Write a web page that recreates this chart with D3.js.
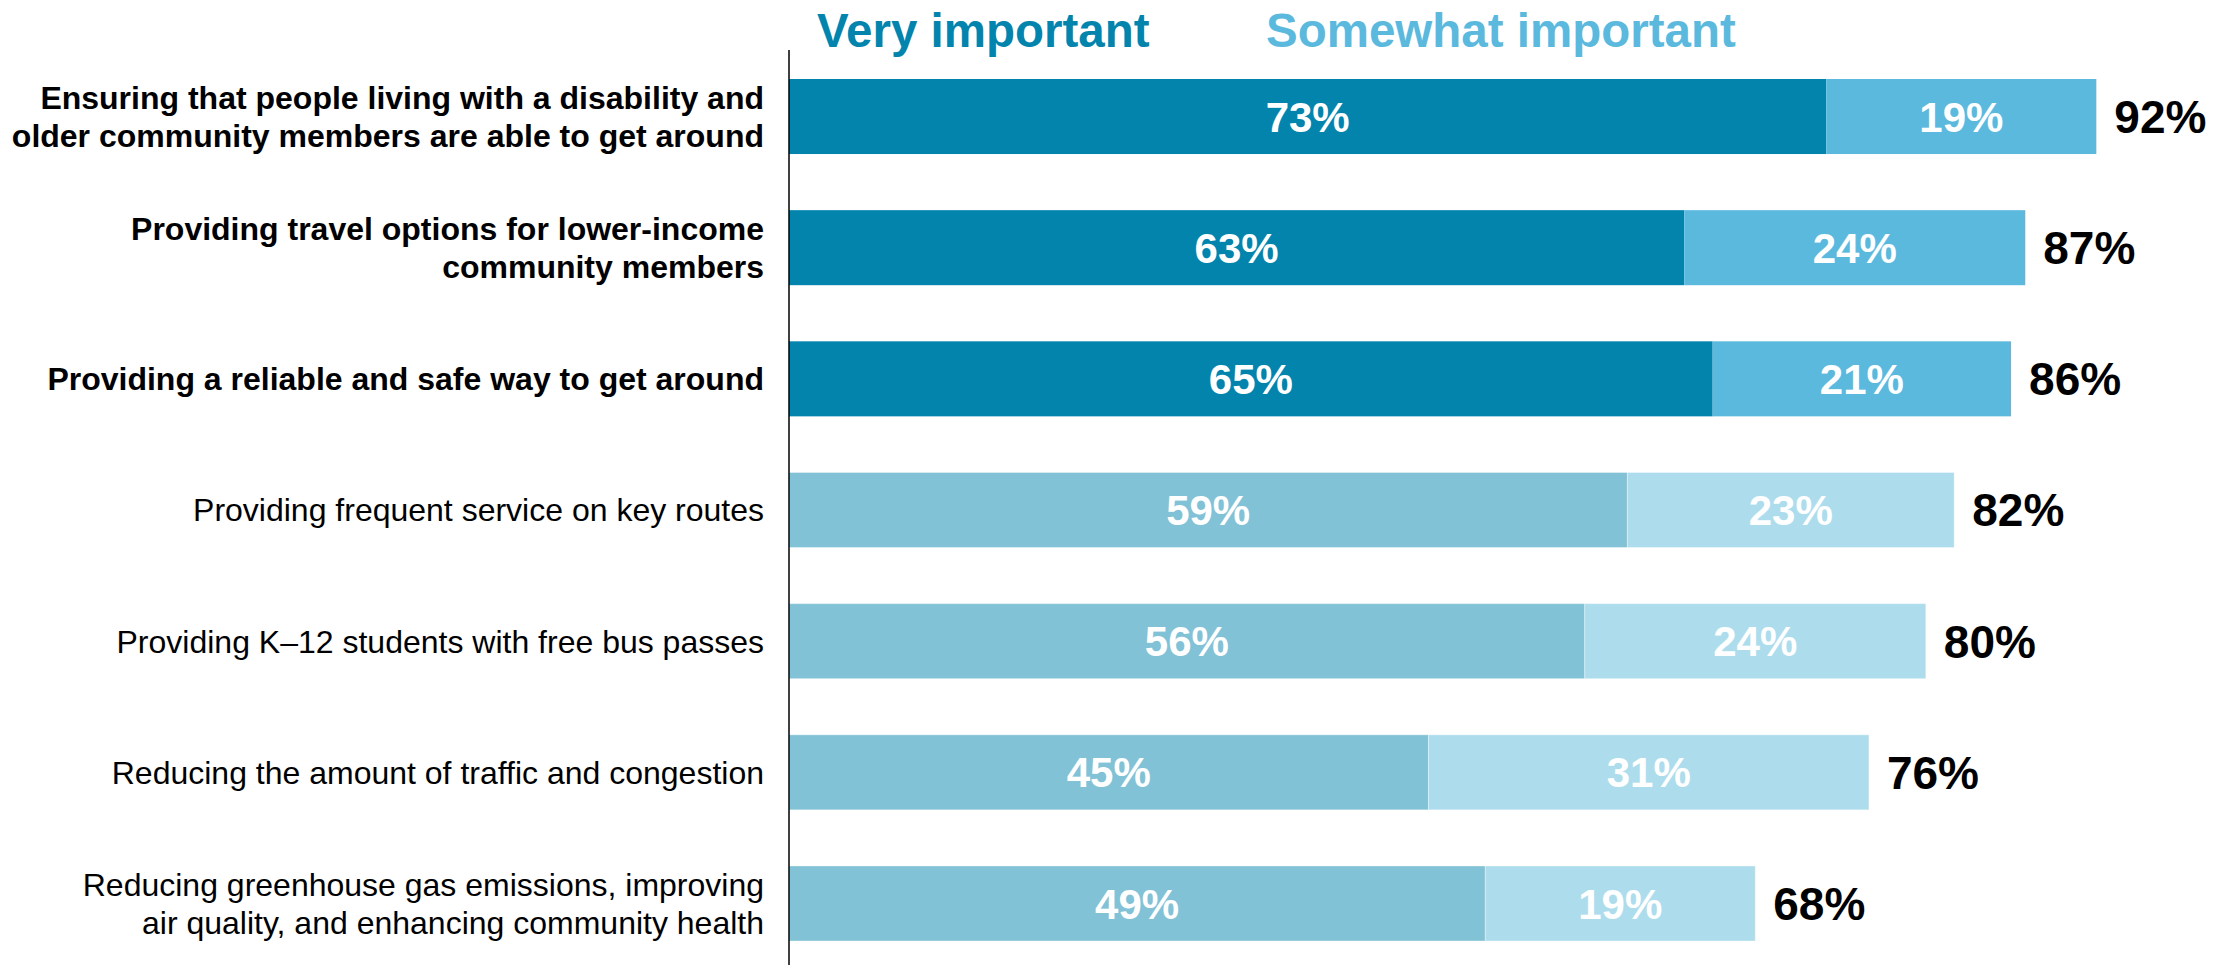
<!DOCTYPE html>
<html>
<head>
<meta charset="utf-8">
<script src="https://cdn.jsdelivr.net/npm/d3@7"></script>
<style>
  html, body { margin: 0; padding: 0; background: #fff; }
  svg { display: block; font-family: Arial, "Liberation Sans", sans-serif; }
</style>
</head>
<body>
<svg id="chart" width="2234" height="965"></svg>
<script>
// Survey priorities: share rating each item "Very" and "Somewhat" important
const categories = [
  ["Ensuring that people living with a disability and", "older community members are able to get around"],
  ["Providing travel options for lower-income", "community members"],
  ["Providing a reliable and safe way to get around"],
  ["Providing frequent service on key routes"],
  ["Providing K\u201312 students with free bus passes"],
  ["Reducing the amount of traffic and congestion"],
  ["Reducing greenhouse gas emissions, improving", "air quality, and enhancing community health"]
];
const veryImportant     = [73, 63, 65, 59, 56, 45, 49];
const somewhatImportant = [19, 24, 21, 23, 24, 31, 19];
const totals            = [92, 87, 86, 82, 80, 76, 68];
const highlighted       = [true, true, true, false, false, false, false];
const seriesNames       = ["Very important", "Somewhat important"];

const colors = {
  very:          "#0284AD",
  somewhat:      "#5BB9DE",
  veryMuted:     "#82C2D6",
  somewhatMuted: "#ADDDED"
};

const svg = d3.select("#chart");

const rows = categories.map((c, i) => ({
  key: c.join(" "),
  lines: c,
  very: veryImportant[i],
  somewhat: somewhatImportant[i],
  total: totals[i],
  bold: highlighted[i]
}));

const x = d3.scaleLinear().domain([0, 100]).range([789, 2210]);
const y = d3.scaleBand()
  .domain(rows.map(d => d.key))
  .range([79, 941])
  .paddingInner(0.428)
  .paddingOuter(0);

// Legend headers above the bars
const legendSize = 47.5;
svg.append("text")
  .attr("x", 817).attr("y", 47)
  .attr("font-size", legendSize).attr("font-weight", "bold")
  .attr("fill", colors.very)
  .text(seriesNames[0]);
svg.append("text")
  .attr("x", 1266).attr("y", 47)
  .attr("font-size", legendSize).attr("font-weight", "bold")
  .attr("fill", colors.somewhat)
  .text(seriesNames[1]);

const g = svg.append("g");

const row = g.selectAll("g.row")
  .data(rows)
  .join("g")
  .attr("class", "row");

// "Very important" segment
row.append("rect")
  .attr("x", x(0))
  .attr("y", d => y(d.key))
  .attr("width", d => x(d.very) - x(0))
  .attr("height", y.bandwidth())
  .attr("fill", d => d.bold ? colors.very : colors.veryMuted);

// "Somewhat important" segment stacked after it
row.append("rect")
  .attr("x", d => x(d.very))
  .attr("y", d => y(d.key))
  .attr("width", d => x(d.very + d.somewhat) - x(d.very))
  .attr("height", y.bandwidth())
  .attr("fill", d => d.bold ? colors.somewhat : colors.somewhatMuted);

// Faint edge on the muted bars
row.filter(d => !d.bold).selectAll("rect")
  .attr("stroke", "rgba(255,255,255,0.35)")
  .attr("stroke-width", 1);

const valueSize = 42;
const totalSize = 46;

// Segment values
row.append("text")
  .attr("x", d => (x(0) + x(d.very)) / 2)
  .attr("y", d => y(d.key) + y.bandwidth() / 2 + valueSize * 0.358)
  .attr("text-anchor", "middle")
  .attr("font-size", valueSize).attr("font-weight", "bold")
  .attr("fill", "#fff")
  .text(d => d.very + "%");

row.append("text")
  .attr("x", d => (x(d.very) + x(d.very + d.somewhat)) / 2)
  .attr("y", d => y(d.key) + y.bandwidth() / 2 + valueSize * 0.358)
  .attr("text-anchor", "middle")
  .attr("font-size", valueSize).attr("font-weight", "bold")
  .attr("fill", "#fff")
  .text(d => d.somewhat + "%");

// Totals to the right of each bar
row.append("text")
  .attr("x", d => x(d.total) + 18)
  .attr("y", d => y(d.key) + y.bandwidth() / 2 + totalSize * 0.358)
  .attr("font-size", totalSize).attr("font-weight", "bold")
  .attr("fill", "#000")
  .text(d => d.total + "%");

// Category labels, right-aligned against the axis
const labelSize = 32;
const lineHeight = 38;
row.append("text")
  .attr("text-anchor", "end")
  .attr("font-size", labelSize)
  .attr("font-weight", d => d.bold ? "bold" : "normal")
  .attr("fill", "#000")
  .each(function(d) {
    const t = d3.select(this);
    const cy = y(d.key) + y.bandwidth() / 2;
    const n = d.lines.length;
    d.lines.forEach((line, k) => {
      t.append("tspan")
        .attr("x", 764)
        .attr("y", cy + (k - (n - 1) / 2) * lineHeight + labelSize * 0.358)
        .text(line);
    });
  });

// Vertical baseline axis
svg.append("line")
  .attr("x1", x(0)).attr("x2", x(0))
  .attr("y1", 50).attr("y2", 965)
  .attr("stroke", "#000")
  .attr("stroke-width", 1.5);
</script>
</body>
</html>
